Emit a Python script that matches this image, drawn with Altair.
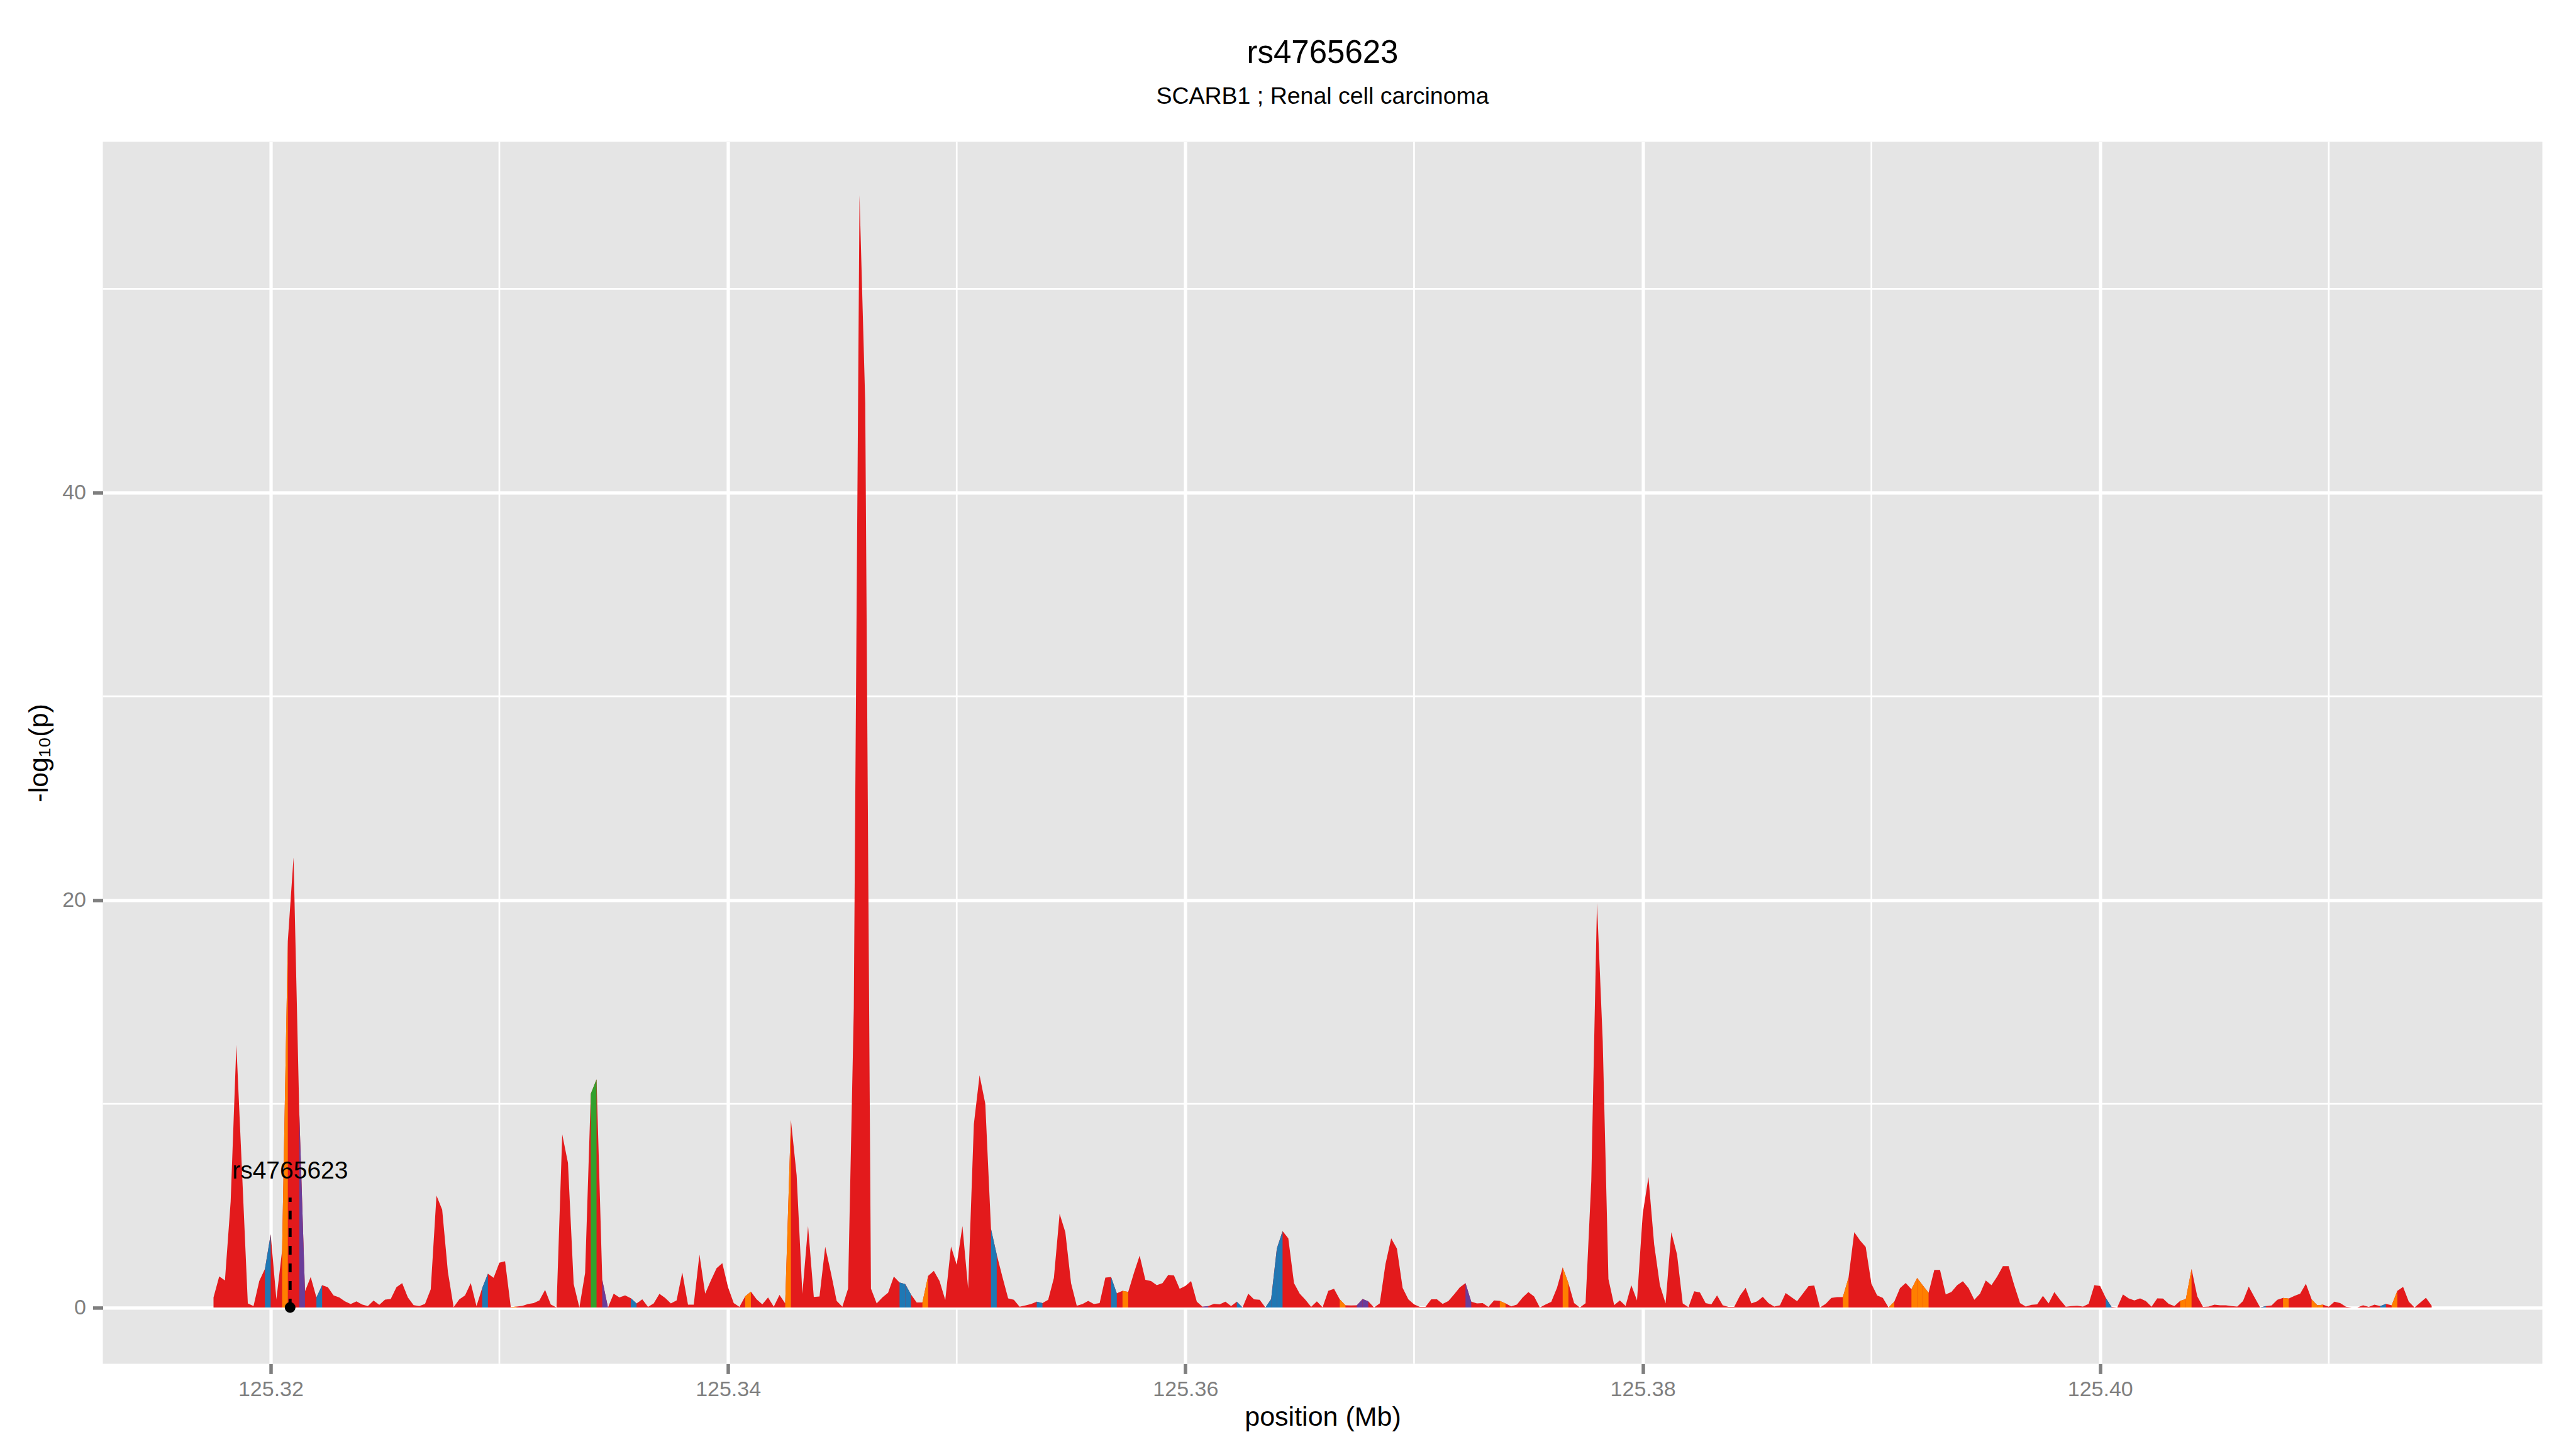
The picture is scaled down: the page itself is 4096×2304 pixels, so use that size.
import altair as alt
import pandas as pd

# ---------------- data ----------------
POS_START_MB = 125.3175   # first grid position (Mb)
POS_STEP_MB = 0.00025     # grid spacing (Mb)

LOGP = [
    0.5, 1.53, 1.33, 5.2, 12.9, 6.6, 0.2, 0.07, 1.3, 1.9,
    3.6, 0.4, 2.8, 18.0, 22.1, 9.6, 0.8, 1.5, 0.5, 1.1,
    1.0, 0.6, 0.5, 0.3, 0.17, 0.3, 0.15, 0.07, 0.34, 0.13,
    0.39, 0.42, 1.0, 1.2, 0.5, 0.12, 0.07, 0.18, 0.9, 5.5,
    4.8, 1.75, 0.02, 0.4, 0.6, 1.2, 0.07, 0.96, 1.66, 1.46,
    2.2, 2.27, 0.02, 0.05, 0.08, 0.17, 0.22, 0.35, 0.87, 0.15,
    0.0, 8.5, 7.1, 1.16, 0.0, 1.7, 10.5, 11.2, 1.36, 0.0,
    0.68, 0.5, 0.6, 0.46, 0.2, 0.4, 0.03, 0.2, 0.67, 0.47,
    0.2, 0.35, 1.72, 0.14, 0.14, 2.6, 0.68, 1.33, 1.93, 2.18,
    1.0, 0.22, 0.03, 0.55, 0.78, 0.4, 0.16, 0.5, 0.04, 0.62,
    0.2, 9.2, 6.5, 0.67, 4.0, 0.52, 0.54, 2.98, 1.7, 0.33,
    0.04, 0.93, 14.7, 54.6, 44.4, 0.93, 0.2, 0.5, 0.73, 1.52,
    1.23, 1.15, 0.64, 0.25, 0.25, 1.55, 1.8, 1.3, 0.37, 3.0,
    2.1, 4.0, 0.93, 9.0, 11.4, 10.0, 3.85, 2.6, 1.5, 0.45,
    0.38, 0.04, 0.1, 0.17, 0.29, 0.22, 0.38, 1.45, 4.6, 3.7,
    1.2, 0.09, 0.17, 0.33, 0.17, 0.22, 1.47, 1.5, 0.7, 0.82,
    0.77, 1.7, 2.55, 1.36, 1.3, 1.1, 1.2, 1.6, 1.58, 0.92,
    1.06, 1.3, 0.29, 0.04, 0.07, 0.18, 0.16, 0.29, 0.07, 0.29,
    0.0, 0.68, 0.4, 0.38, 0.0, 0.42, 2.9, 3.75, 3.4, 1.2,
    0.68, 0.38, 0.03, 0.3, 0.01, 0.82, 0.92, 0.4, 0.11, 0.1,
    0.11, 0.42, 0.3, 0.0, 0.2, 2.13, 3.4, 2.9, 0.97, 0.4,
    0.16, 0.03, 0.03, 0.4, 0.4, 0.18, 0.32, 0.64, 0.99, 1.2,
    0.29, 0.2, 0.22, 0.03, 0.35, 0.33, 0.2, 0.06, 0.15, 0.5,
    0.76, 0.54, 0.0, 0.15, 0.28, 0.97, 1.97, 1.2, 0.22, 0.0,
    0.21, 6.2, 19.85, 13.1, 1.4, 0.12, 0.35, 0.08, 1.1, 0.35,
    4.6, 6.4, 3.1, 1.1, 0.2, 3.7, 2.6, 0.2, 0.02, 0.8,
    0.74, 0.22, 0.16, 0.6, 0.11, 0.03, 0.03, 0.58, 0.97, 0.2,
    0.3, 0.53, 0.22, 0.05, 0.11, 0.71, 0.51, 0.31, 0.68, 1.05,
    1.08, 0.0, 0.18, 0.47, 0.51, 0.51, 1.47, 3.7, 3.3, 2.97,
    1.17, 0.6, 0.47, 0.0, 0.29, 0.95, 1.21, 0.9, 1.45, 1.08,
    0.73, 1.85, 1.85, 0.64, 0.77, 1.1, 1.29, 0.95, 0.38, 0.68,
    1.33, 1.1, 1.52, 2.03, 2.03, 1.08, 0.22, 0.05, 0.13, 0.16,
    0.57, 0.2, 0.76, 0.38, 0.04, 0.07, 0.09, 0.05, 0.18, 1.1,
    1.06, 0.47, 0.03, 0.0, 0.64, 0.45, 0.35, 0.45, 0.32, 0.04,
    0.45, 0.44, 0.18, 0.07, 0.33, 0.42, 1.89, 0.55, 0.03, 0.05,
    0.14, 0.11, 0.11, 0.07, 0.05, 0.32, 1.03, 0.51, 0.0, 0.07,
    0.1, 0.38, 0.47, 0.44, 0.57, 0.68, 1.17, 0.4, 0.11, 0.14,
    0.04, 0.29, 0.22, 0.04, 0.0, 0.0, 0.11, 0.03, 0.14, 0.07,
    0.18, 0.11, 0.82, 1.01, 0.29, 0.0, 0.24, 0.48, 0.09,
]

# segments (index of the left point) drawn in a non-red colour
BLUE_SEGMENTS = [9, 18, 47, 73, 120, 121, 136, 144, 157, 179, 184, 185, 186, 331, 358, 379]
ORANGE_SEGMENTS = [12, 52, 93, 100, 124, 159, 197, 225, 236, 285, 293, 297, 298, 299,
                   344, 345, 362, 367, 368, 381]
PURPLE_SEGMENTS = [15, 68, 173, 200, 201, 219]
GREEN_SEGMENTS = [66]

CATEGORIES = ["red", "blue", "orange", "purple", "green"]
CAT_COLORS = ["#E31A1C", "#1F78B4", "#FF7F00", "#6A3D9A", "#33A02C"]

SNP_NAME = "rs4765623"
SNP_POS = 125.32085
SNP_LINE_TOP = 5.4
SNP_LABEL_Y = 6.32

X_TICKS = [125.32, 125.34, 125.36, 125.38, 125.40]
X_MINOR = [125.33, 125.35, 125.37, 125.39, 125.41]
Y_TICKS = [0, 20, 40]
Y_MINOR = [10, 30, 50]
X_DOMAIN = [125.31266, 125.41934]
Y_DOMAIN = [-2.757, 57.22]

TITLE = "rs4765623"
SUBTITLE = "SCARB1 ; Renal cell carcinoma"
X_TITLE = "position (Mb)"
Y_TITLE = "-log\u2081\u2080(p)"

# ---------------- tables ----------------
positions = [round(POS_START_MB + i * POS_STEP_MB, 6) for i in range(len(LOGP))]
points = pd.DataFrame({"pos": positions, "logp": LOGP})

seg_cat = {}
for name, segs in [("blue", BLUE_SEGMENTS), ("orange", ORANGE_SEGMENTS),
                   ("purple", PURPLE_SEGMENTS), ("green", GREEN_SEGMENTS)]:
    for s in segs:
        seg_cat[s] = name
rows = []
for s, c in seg_cat.items():
    rows.append({"pos": positions[s], "logp": LOGP[s], "seg": s, "cat": c})
    rows.append({"pos": positions[s + 1], "logp": LOGP[s + 1], "seg": s, "cat": c})
segments = pd.DataFrame(rows)

snp = pd.DataFrame({"pos": [SNP_POS], "logp": [0.0], "top": [SNP_LINE_TOP],
                    "label_y": [SNP_LABEL_Y], "label": [SNP_NAME]})

FONT = "Liberation Sans"
W, H = 3879, 1943

x_axis = alt.Axis(values=X_TICKS, format=".2f", domain=False, grid=True,
                  gridColor="white", gridWidth=5.2,
                  tickColor="#7F7F7F", tickSize=16, tickWidth=5.5,
                  labelColor="#7F7F7F", labelFont=FONT, labelFontSize=34,
                  labelPadding=35.4, labelBaseline="alphabetic",
                  labelFlush=False, labelOverlap=False,
                  title=X_TITLE, titleFont=FONT, titleFontSize=43,
                  titleFontWeight="normal", titleColor="black",
                  titleX=W / 2, titleY=98.3, titleAlign="center",
                  titleBaseline="alphabetic")
y_axis = alt.Axis(values=Y_TICKS, domain=False, grid=True,
                  gridColor="white", gridWidth=5.2,
                  tickColor="#7F7F7F", tickSize=16, tickWidth=5.5,
                  labelColor="#7F7F7F", labelFont=FONT, labelFontSize=34,
                  labelPadding=11, labelBaseline="middle", labelAlign="right",
                  labelFlush=False, labelOverlap=False,
                  title=Y_TITLE, titleFont=FONT, titleFontSize=43,
                  titleFontWeight="normal", titleColor="black",
                  titleX=-88.1, titleY=H / 2, titleAngle=270, titleAlign="center",
                  titleBaseline="alphabetic")

xs = alt.Scale(domain=X_DOMAIN, nice=False, zero=False)
ys = alt.Scale(domain=Y_DOMAIN, nice=False, zero=False)
X = alt.X("pos:Q", scale=xs, axis=x_axis)
Y = alt.Y("logp:Q", scale=ys, axis=y_axis)

minor_x = alt.Chart(pd.DataFrame({"pos": X_MINOR})).mark_rule(
    color="white", strokeWidth=2.7).encode(x=X)
minor_y = alt.Chart(pd.DataFrame({"logp": Y_MINOR})).mark_rule(
    color="white", strokeWidth=2.7).encode(y=Y)

red_area = alt.Chart(points).mark_area(color=CAT_COLORS[0], opacity=1).encode(
    x=X, y=Y, y2=alt.datum(0))

seg_area = alt.Chart(segments).mark_area(opacity=1).encode(
    x=X, y=Y, y2=alt.datum(0), detail="seg:N",
    color=alt.Color("cat:N", scale=alt.Scale(domain=CATEGORIES, range=CAT_COLORS),
                    legend=None))

snp_rule = alt.Chart(snp).mark_rule(color="black", strokeWidth=4.8,
                                    strokeDash=[14, 14]).encode(
    x=X, y=Y, y2="top:Q")
snp_point = alt.Chart(snp).mark_point(filled=True, color="black", size=290,
                                      opacity=1, shape="circle").encode(x=X, y=Y)
snp_text = alt.Chart(snp).mark_text(font=FONT, fontSize=39, color="black",
                                    align="center", baseline="alphabetic").encode(
    x=X, y=alt.Y("label_y:Q", scale=ys, axis=y_axis), text="label:N")

chart = alt.layer(minor_x, minor_y, red_area, seg_area, snp_rule, snp_point, snp_text).properties(
    width=W, height=H,
    autosize=alt.AutoSizeParams(type="none"),
    padding={"left": 155.5, "top": 217.4, "right": 40, "bottom": 125},
    view=alt.ViewBackground(fill="#E5E5E5", stroke="transparent", strokeWidth=0),
    title=alt.TitleParams(text=TITLE, subtitle=SUBTITLE, font=FONT, fontSize=51,
                          fontWeight="normal", color="black",
                          subtitleFont=FONT, subtitleFontSize=37.5,
                          subtitleColor="black", subtitleFontWeight="normal",
                          anchor="middle", frame="group", offset=51,
                          subtitlePadding=23.6),
).configure(background="white")

chart.save("out.html", embed_options={"renderer": "svg", "actions": False})
